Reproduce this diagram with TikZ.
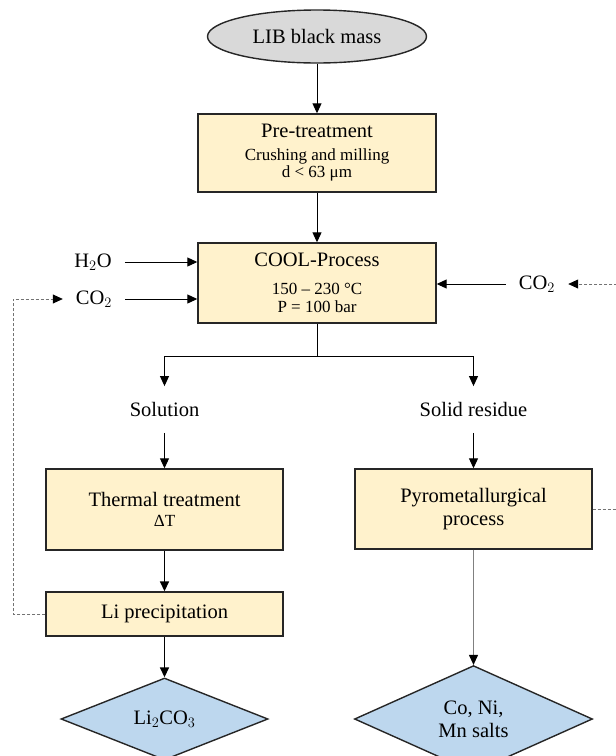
\documentclass[tikz,border=0pt]{standalone}
\usepackage{fontspec}
\setmainfont{Liberation Serif}
\usepackage{tikz}
\usetikzlibrary{shapes.geometric,arrows.meta}
\definecolor{Cream}{HTML}{FFF2CC}
\definecolor{Grey}{HTML}{D9D9D9}
\definecolor{Salt}{HTML}{BDD7EE}
\newcommand{\subtext}{\fontsize{17}{19}\selectfont}

\begin{document}
\begin{tikzpicture}
    [x=1pt, y=-1pt, font=\fontsize{20.5}{23}\selectfont,
     Box/.style={rectangle, draw=black!85, line width=1.4pt, fill=Cream, inner sep=0pt, align=center},
     Product/.style={diamond, draw=black!85, line width=1.4pt, fill=Salt, inner sep=0pt, align=center},
     Feed/.style={inner xsep=13pt, inner ysep=16pt},
     Flow/.style={-{Triangle[length=10pt,width=9pt]}, line width=1pt},
     Loop/.style={-{Triangle[length=10pt,width=9pt,color=black]}, draw=black!55, dash pattern=on 3pt off 2pt, line width=0.8pt}]
	\clip (0,0) rectangle (616,756);
	% main line
	\node[ellipse, draw=black!85, line width=1.4pt, fill=Grey, minimum width=219pt, minimum height=53pt, inner sep=0pt] (Mass) at (317, 36.5) {LIB black mass};
	\node[Box, minimum width=238pt, minimum height=78pt] (Pre) at (317, 153) {Pre-treatment\\[0pt]{\subtext Crushing and milling}\\[-6pt]{\subtext d < 63 μm}};
	\node[Box, minimum width=238pt, minimum height=80pt] (Cool) at (317, 283) {COOL-Process\\[5pt]{\subtext 150 – 230 °C}\\[-5pt]{\subtext P = 100 bar}};
	\node[Feed] (H2O) at (93, 262) {H$_2$O};
	\node[Feed] (CO2L) at (94, 299) {CO$_2$};
	\node[Feed] (CO2R) at (537, 284) {CO$_2$};
	\node[Feed] (Sol) at (164.5, 409.5) {Solution};
	\node[Feed] (Res) at (473.5, 409.5) {Solid residue};
	\node[Box, minimum width=237pt, minimum height=81pt] (Therm) at (164.5, 509.5) {Thermal treatment\\[-3pt]{\subtext ΔT}};
	\node[Box, minimum width=237pt, minimum height=80pt] (Pyro) at (473.5, 509) {Pyrometallurgical\\process};
	\node[Box, minimum width=237pt, minimum height=44pt] (Prec) at (164.5, 614) {Li precipitation};
	\node[Product, minimum width=207pt, minimum height=82pt] (LiCO) at (164.5, 719) {Li$_2$CO$_3$};
	\node[Product, minimum width=238pt, minimum height=82pt] (Salts) at (473.5, 719) {Co, Ni,\\Mn salts};
	\coordinate (Split) at (317, 356);
	\coordinate (LoopL) at (13, 0);
	\coordinate (LoopR) at (640, 0);
	% connectors
	\draw[Flow] (Mass) -- (Pre);
	\draw[Flow] (Pre) -- (Cool);
	\draw[Flow] (H2O.east) -- (H2O.east -| Cool.west);
	\draw[Flow] (CO2L.east) -- (CO2L.east -| Cool.west);
	\draw[Flow] (CO2R.west) -- (CO2R.west -| Cool.east);
	\draw[Flow] (Cool.south) -- (Split) -| (Sol.north);
	\draw[Flow] (Split) -| (Res.north);
	\draw[Flow] (Sol) -- (Therm);
	\draw[Flow] (Res) -- (Pyro);
	\draw[Flow, line width=1.6pt] (Therm) -- (Prec);
	\draw[Flow, line width=1.6pt] (Prec) -- (LiCO);
	\draw[Flow, draw=black!50, -{Triangle[length=10pt,width=9pt,color=black]}] (Pyro) -- (Salts);
	\draw[Loop] (Prec.west) -- (Prec.west -| LoopL) |- (CO2L.west);
	\draw[Loop] (Pyro.east) -- (Pyro.east -| LoopR) |- (CO2R.east);
\end{tikzpicture}
\end{document}
